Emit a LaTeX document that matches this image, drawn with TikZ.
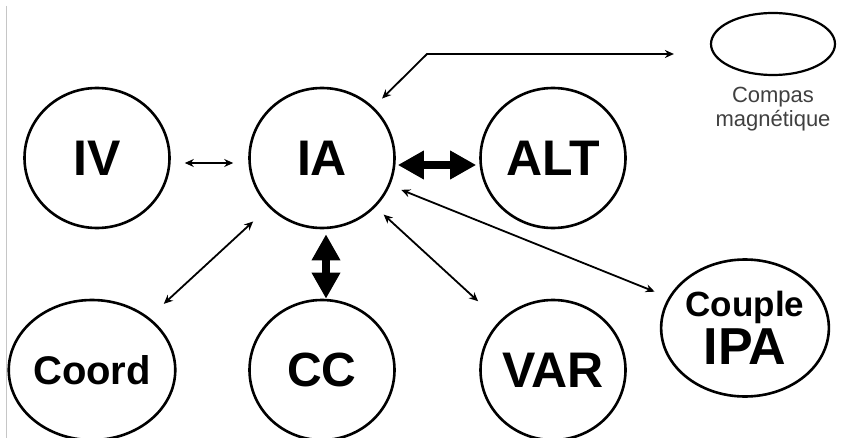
\documentclass[tikz,border=0pt]{standalone}
\usepackage{fontspec}
\setmainfont{Liberation Sans}
\usetikzlibrary{arrows.meta,shapes.geometric}
\begin{document}
\begin{tikzpicture}[x=1pt,y=-1pt,
  bub/.style={ellipse,draw,line width=2.6pt,minimum width=145pt,minimum height=140pt,inner sep=0pt},
  big/.style={font=\bfseries\fontsize{50}{50}\selectfont},
  thinarr/.style={line width=1.8pt,{Stealth[length=9pt,width=8pt]}-{Stealth[length=9pt,width=8pt]}},
  thickarr/.style={line width=8pt,{Triangle[length=26pt,width=27pt]}-{Triangle[length=26pt,width=27pt]}},
]
\useasboundingbox (0,0) rectangle (866,438);
\clip (0,0) rectangle (866,438);
\draw[gray!45,line width=1pt] (6,6) -- (6,438);
% nodes
\node[bub,big] (IV) at (97,158) {IV};
\node[bub,big] (IA) at (322,158) {IA};
\node[bub,big] (ALT) at (553,158) {ALT};
\node[bub,font=\bfseries\fontsize{40}{40}\selectfont] (Coord) at (92,370) {Coord};
\node[bub,font=\bfseries\fontsize{48}{48}\selectfont] (CC) at (322,370) {CC};
\node[bub,big] (VAR) at (553,370) {VAR};
\node[bub,align=center,minimum height=137pt,font=\bfseries] (IPA) at (745,328)
  {\fontsize{35}{35}\selectfont Couple\\[4pt]\fontsize{52}{50}\selectfont IPA};
\node[ellipse,draw,line width=2.2pt,minimum width=124pt,minimum height=62pt,inner sep=0pt] (CM) at (773,44) {};
\node[align=center,text=black!75,font=\fontsize{22}{24}\selectfont] (CML) at (773,109) {Compas\\magnétique};
\coordinate (bend) at (427,54);
% connectors
\draw[thinarr,shorten <=14pt,shorten >=15pt] ([yshift=-5pt]IV.east) -- ([yshift=-5pt]IA.west);
\draw[thickarr,shorten <=2pt,shorten >=3pt] ([yshift=-7pt]IA.east) -- ([yshift=-7pt]ALT.west);
\draw[thickarr,shorten <=5pt] ([xshift=4pt]IA.south) -- ([xshift=4pt]CC.north);
\draw[thinarr,shorten <=21pt,shorten >=20pt] (IA) -- (Coord);
\draw[thinarr,shorten <=11pt,shorten >=29pt] (IA) -- (VAR);
\draw[thinarr,shorten <=12pt,shorten >=15pt] (IA) -- (IPA);
\draw[thinarr,shorten <=12pt,shorten >=36pt] (IA) -- (bend) -- ([yshift=-10pt]CM.west);
\end{tikzpicture}
\end{document}
